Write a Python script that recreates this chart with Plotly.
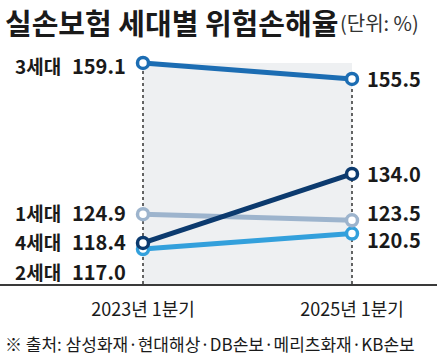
import plotly.graph_objects as go

# ---- data ----
generations = ["1세대", "2세대", "3세대", "4세대"]
periods = ["2023년 1분기", "2025년 1분기"]
ratio_2023 = [124.9, 117.0, 159.1, 118.4]
ratio_2025 = [123.5, 120.5, 155.5, 134.0]

title_text = "실손보험 세대별 위험손해율"
unit_text = "(단위: %)"
source_text = "※ 출처: 삼성화재·현대해상·DB손보·메리츠화재·KB손보"

# ---- style ----
colors = {"1세대": "#9db4cd", "2세대": "#33a0dc", "3세대": "#1c6db3", "4세대": "#0c3a6e"}
draw_order = ["2세대", "1세대", "3세대", "4세대"]
left_shift = {"1세대": 2, "2세대": -22, "3세대": -3, "4세대": 1}
right_shift = {"1세대": 8, "2세대": -6, "3세대": 0, "4세대": 0}

W, H = 437, 356
M_T, M_B = 40, 72
plot_h = H - M_T - M_B
FONT = "Noto Sans CJK KR"
Y_RANGE = [109.1, 164.3]
X_RANGE = [-143 / 209, 1 + 85 / 209]

def py(px):
    """pixel (from top of page) -> paper y"""
    return (H - M_B - px) / plot_h

fig = go.Figure()

x_idx = list(range(len(periods)))
for g in draw_order:
    i = generations.index(g)
    fig.add_trace(go.Scatter(
        x=x_idx, y=[ratio_2023[i], ratio_2025[i]],
        mode="lines+markers", name=g,
        line=dict(color=colors[g], width=5),
        marker=dict(size=11, color="white", line=dict(color=colors[g], width=3.5)),
        hoverinfo="skip", showlegend=False, cliponaxis=False,
    ))

# shaded band and dotted guides
fig.add_shape(type="rect", xref="x", yref="y", x0=0, x1=1,
              y0=Y_RANGE[0], y1=max(ratio_2023),
              fillcolor="#eef0f2", line=dict(width=0), layer="below")
fig.add_shape(type="line", xref="x", yref="y", x0=0, x1=0,
              y0=Y_RANGE[0], y1=max(ratio_2023),
              line=dict(color="#333333", width=1.5, dash="dot"), layer="below")
fig.add_shape(type="line", xref="x", yref="y", x0=1, x1=1,
              y0=Y_RANGE[0], y1=max(ratio_2025),
              line=dict(color="#333333", width=1.5, dash="dot"), layer="below")

# labels
for i, g in enumerate(generations):
    fig.add_annotation(x=0, y=ratio_2023[i], xref="x", yref="y", text=g,
                       xanchor="right", yanchor="middle", xshift=-80, yshift=left_shift[g],
                       showarrow=False, font=dict(family=FONT, size=19, color="#1a1a1a", weight="bold"))
    fig.add_annotation(x=0, y=ratio_2023[i], xref="x", yref="y", text=f"{ratio_2023[i]:.1f}",
                       xanchor="right", yanchor="middle", xshift=-15, yshift=left_shift[g],
                       showarrow=False, font=dict(family=FONT, size=20, color="#1a1a1a", weight="bold"))
    fig.add_annotation(x=1, y=ratio_2025[i], xref="x", yref="y", text=f"{ratio_2025[i]:.1f}",
                       xanchor="left", yanchor="middle", xshift=13, yshift=right_shift[g],
                       showarrow=False, font=dict(family=FONT, size=20, color="#1a1a1a", weight="bold"))

fig.add_annotation(x=3 / W, y=py(22), xref="paper", yref="paper", text=title_text,
                   xanchor="left", yanchor="middle", showarrow=False,
                   font=dict(family=FONT, size=29, color="#1a1a1a", weight="bold"))
fig.add_annotation(x=338 / W, y=py(23), xref="paper", yref="paper", text=unit_text,
                   xanchor="left", yanchor="middle", showarrow=False,
                   font=dict(family=FONT, size=20, color="#333333"))
fig.add_annotation(x=3 / W, y=py(343), xref="paper", yref="paper", text=source_text,
                   xanchor="left", yanchor="middle", showarrow=False,
                   font=dict(family=FONT, size=17, color="#1a1a1a"))

fig.update_layout(
    width=W, height=H,
    margin=dict(l=0, r=0, t=M_T, b=M_B),
    paper_bgcolor="white", plot_bgcolor="white",
    xaxis=dict(range=X_RANGE, tickvals=x_idx, ticktext=periods, showgrid=False, zeroline=False,
               showline=True, linecolor="#3a3a3a", linewidth=2, ticks="", ticklabelstandoff=8,
               tickfont=dict(family=FONT, size=18, color="#1a1a1a"), fixedrange=True),
    yaxis=dict(range=Y_RANGE, visible=False, showgrid=False, zeroline=False, fixedrange=True),
    showlegend=False,
)

fig.write_html("out.html", config={"displayModeBar": False},
               post_script="document.body.style.margin='0';document.body.style.padding='0';")
